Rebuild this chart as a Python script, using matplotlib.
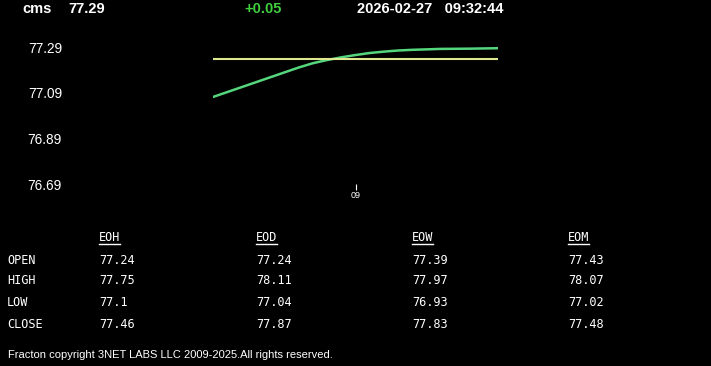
import matplotlib
matplotlib.use("Agg")
import matplotlib.pyplot as plt

# header
symbol = "cms"
last_price = "77.29"
change = "+0.05"
stamp = "2026-02-27   09:32:44"

# intraday line (x in hours)
hours = [8.50, 8.60, 8.70, 8.80, 8.85, 8.90, 8.95, 9.00, 9.05, 9.10, 9.15, 9.20, 9.30, 9.40, 9.50]
prices = [77.072, 77.115, 77.158, 77.201, 77.220, 77.234, 77.246, 77.256,
          77.265, 77.271, 77.276, 77.279, 77.283, 77.284, 77.286]
open_level = 77.24
y_ticks = [76.69, 76.89, 77.09, 77.29]
x_ticks = [9.0]
x_tick_labels = ["09"]

# summary table
columns = ["EOH", "EOD", "EOW", "EOM"]
rows = ["OPEN", "HIGH", "LOW", "CLOSE"]
table = [
    ["77.24", "77.24", "77.39", "77.43"],
    ["77.75", "78.11", "77.97", "78.07"],
    ["77.1", "77.04", "76.93", "77.02"],
    ["77.46", "77.87", "77.83", "77.48"],
]

W, H = 711, 366
fig = plt.figure(figsize=(W / 100, H / 100), dpi=100, facecolor="black")

# axes placed in pixel space: x 213..498, y top 30..bottom 190
x0, x1 = 213, 498
ytop, ybot = 30, 190
ax = fig.add_axes([x0 / W, 1 - ybot / H, (x1 - x0) / W, (ybot - ytop) / H])
ax.set_facecolor("black")
ax.plot(hours, prices, color="#55d67c", lw=1.8, solid_capstyle="round")
ax.plot([hours[0], hours[-1]], [open_level, open_level], color="#dfe890", lw=1.5)
ax.set_xlim(8.5, 9.5)
# 77.29 sits at y=47.3 px, 76.69 at y=184 px
per_px = 0.6 / (184 - 47.3)
ax.set_ylim(76.69 - (ybot - 184) * per_px, 77.29 + (47.3 - ytop) * per_px)
for s in ax.spines.values():
    s.set_visible(False)
ax.set_yticks(y_ticks)
ax.set_yticklabels([f"{v:.2f}" for v in y_ticks])
ax.tick_params(axis="y", length=0, pad=(x0 - 62) * 0.72, colors="white", labelsize=9.8)
ax.set_xticks(x_ticks)
ax.set_xticklabels(x_tick_labels)
ax.tick_params(axis="x", length=4, direction="in", colors="white", labelsize=6.5, pad=1)
for lab in ax.get_yticklabels() + ax.get_xticklabels():
    lab.set_fontfamily("Liberation Sans")

# header
hdr = dict(fontsize=10.5, fontweight="bold", family="Liberation Sans", va="center")
fig.text(22 / W, 1 - 9 / H, symbol, color="white", **hdr)
fig.text(68 / W, 1 - 9 / H, last_price, color="white", **hdr)
fig.text(244 / W, 1 - 9 / H, change, color="#3fcf3f", **hdr)
fig.text(357 / W, 1 - 9 / H, stamp, color="white", **hdr)

# table
mono = dict(fontsize=8.6, family="DejaVu Sans Mono", color="white", va="center")
col_x = [99, 256, 412, 568]
row_y = [260, 281, 303, 325]
heads = []
for cx, name in zip(col_x, columns):
    heads.append(fig.text(cx / W, 1 - 238 / H, name, **mono))
for ry, rname, vals in zip(row_y, rows, table):
    fig.text(7 / W, 1 - ry / H, rname, **mono)
    for cx, v in zip(col_x, vals):
        fig.text(cx / W, 1 - ry / H, v, **mono)

# underline the column headers
fig.canvas.draw()
rend = fig.canvas.get_renderer()
for t in heads:
    bb = t.get_window_extent(rend)
    fig.add_artist(plt.Line2D([bb.x0 / W, bb.x1 / W], [(H - 243.5) / H, (H - 243.5) / H],
                              color="white", lw=1, transform=fig.transFigure))

fig.text(8 / W, 1 - 355 / H, "Fracton copyright 3NET LABS LLC 2009-2025.All rights reserved.",
         color="white", fontsize=8, family="Liberation Sans", va="center")

fig.savefig("out.png", dpi=100, facecolor="black")
